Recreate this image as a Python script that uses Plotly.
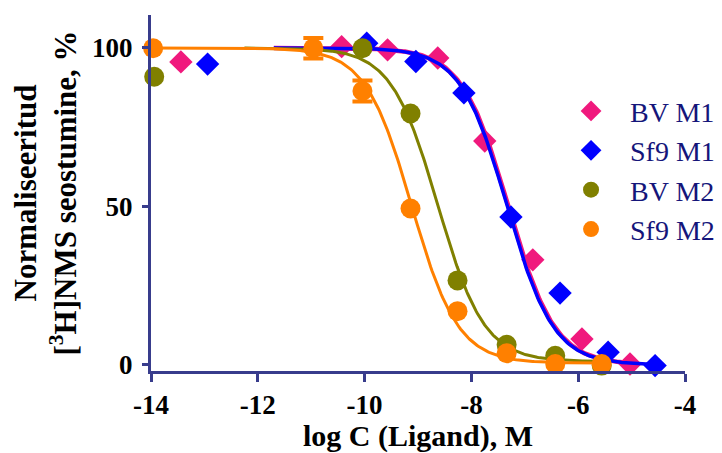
import numpy as np
import plotly.graph_objects as go

# ---- data ----
bv_m1_x = [-13.44, -10.43, -9.57, -8.63, -7.75, -6.85, -5.93, -5.03]
bv_m1_y = [95.6, 100.4, 99.4, 96.8, 70.6, 33.1, 8.1, 0.2]

sf9_m1_x = [-12.94, -9.96, -9.04, -8.14, -7.26, -6.34, -5.44, -4.56]
sf9_m1_y = [94.9, 101.5, 95.7, 85.8, 46.6, 22.6, 3.9, -0.3]

bv_m2_x = [-13.94, -10.04, -9.14, -8.26, -7.34, -6.43, -5.56]
bv_m2_y = [90.9, 99.9, 79.3, 26.6, 6.3, 2.8, -0.3]

sf9_m2_x = [-13.96, -10.96, -10.04, -9.14, -8.26, -7.34, -6.43, -5.56]
sf9_m2_y = [99.9, 99.9, 86.4, 49.3, 16.9, 3.6, 0.2, 0.2]

# error bars (only visible ones)
sf9_m2_err_x = [-10.96, -10.04]
sf9_m2_err_y = [99.9, 86.4]
sf9_m2_err = [3.2, 3.3]

# fitted one-site competition curves: top, bottom, logIC50, hill, x-start, x-end
fit_bv_m1 = dict(top=100, bottom=0, logic50=-7.31, hill=1.0, x0=-11.7, x1=-5.03)
fit_sf9_m1 = dict(top=100, bottom=0, logic50=-7.33, hill=1.0, x0=-11.7, x1=-4.56)
fit_bv_m2 = dict(top=100, bottom=1.0, logic50=-8.63, hill=1.0, x0=-12.25, x1=-5.56)
fit_sf9_m2 = dict(top=100, bottom=0.5, logic50=-9.12, hill=1.0, x0=-13.96, x1=-5.56)

names = ["BV M1", "Sf9 M1", "BV M2", "Sf9 M2"]
colors = ["#F0197D", "#0000FF", "#808000", "#FF8000"]

x_ticks = [-14, -12, -10, -8, -6, -4]
y_ticks = [0, 50, 100]


def curve(p):
    xs = np.linspace(p["x0"], p["x1"], 300)
    ys = p["bottom"] + (p["top"] - p["bottom"]) / (1 + 10 ** ((xs - p["logic50"]) * p["hill"]))
    return xs, ys


AX = "#383C8C"
fig = go.Figure()

series = [
    (bv_m1_x, bv_m1_y, fit_bv_m1, "diamond", 18, 4.5),
    (sf9_m1_x, sf9_m1_y, fit_sf9_m1, "diamond", 18, 3.5),
    (bv_m2_x, bv_m2_y, fit_bv_m2, "circle", 20, 3),
    (sf9_m2_x, sf9_m2_y, fit_sf9_m2, "circle", 20, 3),
]

for i, (xs, ys, p, sym, size, lw) in enumerate(series):
    cx, cy = curve(p)
    fig.add_trace(go.Scatter(x=cx, y=cy, mode="lines",
                             line=dict(color=colors[i], width=lw),
                             showlegend=False, hoverinfo="skip", cliponaxis=False))
    if i == 3:
        fig.add_trace(go.Scatter(x=sf9_m2_err_x, y=sf9_m2_err_y, mode="markers",
                                 marker=dict(size=1, color=colors[i], opacity=0),
                                 error_y=dict(type="data", array=sf9_m2_err, color=colors[i],
                                              thickness=4, width=10),
                                 showlegend=False, hoverinfo="skip", cliponaxis=False))
    fig.add_trace(go.Scatter(x=xs, y=ys, mode="markers", name=names[i],
                             legendgroup=names[i],
                             marker=dict(symbol=sym, size=size, color=colors[i],
                                         line=dict(width=0)),
                             cliponaxis=False))

# the page body has an 8px default margin, so the figure is offset by 8px
fig.update_layout(
    width=722, height=445,
    margin=dict(l=143, r=45, t=7, b=82),
    paper_bgcolor="white", plot_bgcolor="white",
    font=dict(family="Liberation Serif", color="black"),
    showlegend=True,
    legend=dict(x=0.751, y=0.80, xanchor="left", yanchor="top",
                font=dict(family="Liberation Serif", size=28, color="#15157A"),
                tracegroupgap=0, itemwidth=68, bgcolor="rgba(0,0,0,0)"),
    xaxis=dict(range=[-14, -4], tickvals=x_ticks, ticktext=[str(v) for v in x_ticks],
               automargin=False,
               showgrid=False, zeroline=False, showline=True, linecolor=AX, linewidth=3,
               ticks="outside", ticklen=8, tickwidth=3, tickcolor=AX,
               tickfont=dict(family="Liberation Serif", size=27, color="black", weight="bold"),
               title=dict(text="log C (Ligand), M", standoff=11,
                          font=dict(family="Liberation Serif", size=30, color="black", weight="bold"))),
    yaxis=dict(range=[-2, 110.4], tickvals=y_ticks, ticktext=[str(v) for v in y_ticks],
               automargin=False, ticklabelstandoff=4,
               showgrid=False, zeroline=False, showline=True, linecolor=AX, linewidth=3,
               ticks="outside", ticklen=6, tickwidth=3, tickcolor=AX,
               tickfont=dict(family="Liberation Serif", size=27, color="black", weight="bold"),
               title=dict(text="Normaliseeritud<br>[<sup>3</sup>H]NMS seostumine, %", standoff=14,
                          font=dict(family="Liberation Serif", size=31, color="black", weight="bold"))),
)

fig.write_html("out.html")
